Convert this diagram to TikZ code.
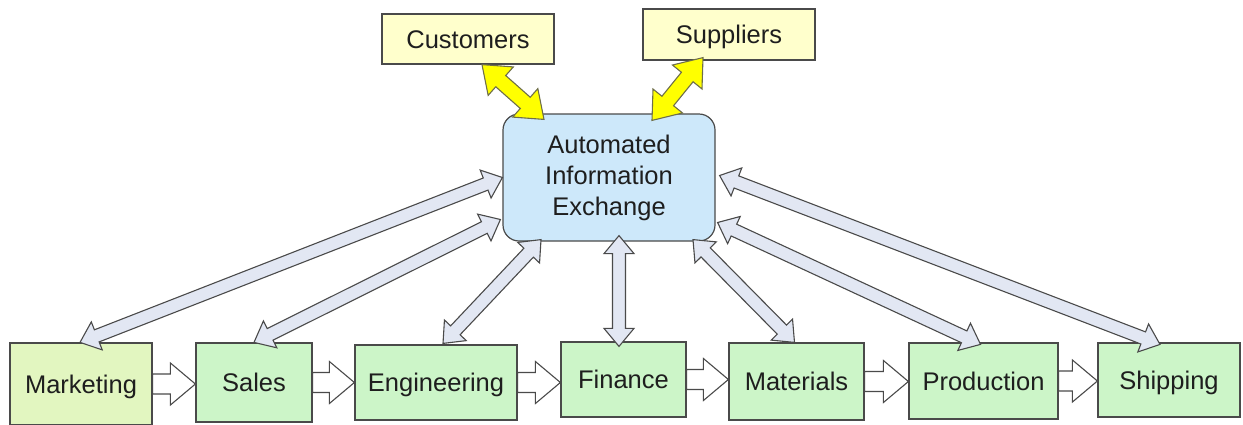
\documentclass[tikz,border=0pt]{standalone}
\usepackage{fontspec}
\setmainfont{Liberation Sans}
\usetikzlibrary{calc}

\definecolor{ink}{HTML}{1E1E1E}
\definecolor{edge}{HTML}{4A4A4A}
\definecolor{partnerfill}{HTML}{FFFFCC}
\definecolor{hubfill}{HTML}{CDE8FA}
\definecolor{deptfill}{HTML}{CCF5C8}
\definecolor{mktfill}{HTML}{E2F6C0}
\definecolor{linkfill}{HTML}{E2E7F3}
\definecolor{feedfill}{HTML}{FFFF00}
\definecolor{feededge}{HTML}{6E6E4A}

\tikzset{
  labelfont/.style={font=\fontsize{25.5}{31}\selectfont, text=ink},
  unitbox/.style={draw=edge, line width=1.2pt, inner sep=0pt, labelfont},
  partner/.style={unitbox, fill=partnerfill, text height=18pt, text depth=0pt},
  hubbox/.style={unitbox, fill=hubfill, rounded corners=16pt, align=center},
  dept/.style={unitbox, fill=deptfill, text height=18pt, text depth=0pt},
  linkarrow/.style={draw=edge, fill=linkfill, line width=1.1pt, line join=miter},
  feedarrow/.style={draw=feededge, fill=feedfill, line width=1.1pt, line join=miter},
  flowarrow/.style={draw=edge, fill=white, line width=1.1pt, line join=miter},
}

% two-headed block arrow: style, name, from, to, shaft half width, head half width, head length
\newcommand\twoway[7]{%
  \coordinate (#2-s) at (#3);
  \coordinate (#2-e) at (#4);
  \draw[#1] (#2-s)
    -- ($(#2-s)!#7!(#2-e)!#6!90:(#2-e)$)
    -- ($(#2-s)!#7!(#2-e)!#5!90:(#2-e)$)
    -- ($(#2-e)!#7!(#2-s)!#5!-90:(#2-s)$)
    -- ($(#2-e)!#7!(#2-s)!#6!-90:(#2-s)$)
    -- (#2-e)
    -- ($(#2-e)!#7!(#2-s)!#6!90:(#2-s)$)
    -- ($(#2-e)!#7!(#2-s)!#5!90:(#2-s)$)
    -- ($(#2-s)!#7!(#2-e)!#5!-90:(#2-e)$)
    -- ($(#2-s)!#7!(#2-e)!#6!-90:(#2-e)$)
    -- cycle;}

% one-headed block arrow: style, name, from, to, shaft half width, head half width, head length
\newcommand\oneway[7]{%
  \coordinate (#2-s) at (#3);
  \coordinate (#2-e) at (#4);
  \draw[#1] ($(#2-s)!#5!90:(#2-e)$)
    -- ($(#2-e)!#7!(#2-s)!#5!-90:(#2-s)$)
    -- ($(#2-e)!#7!(#2-s)!#6!-90:(#2-s)$)
    -- (#2-e)
    -- ($(#2-e)!#7!(#2-s)!#6!90:(#2-s)$)
    -- ($(#2-e)!#7!(#2-s)!#5!90:(#2-s)$)
    -- ($(#2-s)!#5!-90:(#2-e)$)
    -- cycle;}

\newcommand\linkto[3]{\twoway{linkarrow}{#1}{#2}{#3}{6.5pt}{15pt}{18pt}}
\newcommand\feedto[3]{\twoway{feedarrow}{#1}{#2}{#3}{7.5pt}{19pt}{25pt}}
\newcommand\flowto[3]{\oneway{flowarrow}{#1}{#2}{#3}{10pt}{21pt}{25pt}}

\begin{document}
\begin{tikzpicture}[x=1pt,y=-1pt]
\useasboundingbox (0,0) rectangle (1243,424);

% partners
\node[partner, minimum width=172, minimum height=50] (cust) at (468,39) {Customers};
\node[partner, minimum width=172, minimum height=51] (sup) at (729,34.5) {Suppliers};

% central exchange
\node[hubbox, minimum width=212, minimum height=127] (hub) at (609,177.5)
  {Automated\\Information\\Exchange};

% departments
\node[dept, fill=mktfill, minimum width=142, minimum height=82] (mkt) at (81,384) {Marketing};
\node[dept, minimum width=116, minimum height=79] (sales) at (254,382.5) {Sales};
\node[dept, minimum width=162, minimum height=75] (eng) at (436,382.5) {Engineering};
\node[dept, minimum width=125, minimum height=75] (fin) at (623.5,379.5) {Finance};
\node[dept, minimum width=135, minimum height=77] (mat) at (796.5,381.5) {Materials};
\node[dept, minimum width=149, minimum height=76] (prod) at (983.5,381) {Production};
\node[dept, minimum width=142, minimum height=74] (ship) at (1169,380) {Shipping};

% department chain
\flowto{f1}{mkt.east}{sales.west |- mkt.east}
\flowto{f2}{sales.east}{eng.west |- sales.east}
\flowto{f3}{eng.east}{fin.west |- eng.east}
\flowto{f4}{fin.east}{mat.west |- fin.east}
\flowto{f5}{mat.east}{prod.west |- mat.east}
\flowto{f6}{prod.east}{ship.west |- prod.east}

% links to the exchange
\linkto{l1}{$(mkt.north)+(-1,0)$}{hub.west}
\linkto{l2}{sales.north}{$(hub.west)+(-2,42)$}
\linkto{l3}{$(eng.north)+(7,-1)$}{$(hub.south)+(-68,-2)$}
\linkto{l4}{$(fin.north)+(-4.5,5)$}{$(hub.south)+(10,-6)$}
\linkto{l5}{$(mat.north)+(-2,0)$}{$(hub.south)+(84,-2)$}
\linkto{l6}{$(prod.north)+(-3,2)$}{$(hub.east)+(2,45)$}
\linkto{l7}{$(ship.north)+(-9,2)$}{$(hub.east)+(4,-2)$}

% partner links
\feedto{p1}{$(cust.south)+(14,0)$}{$(hub.north)+(-65,6)$}
\feedto{p2}{$(sup.south)+(-26,-3)$}{$(hub.north)+(43,7)$}
\end{tikzpicture}
\end{document}
